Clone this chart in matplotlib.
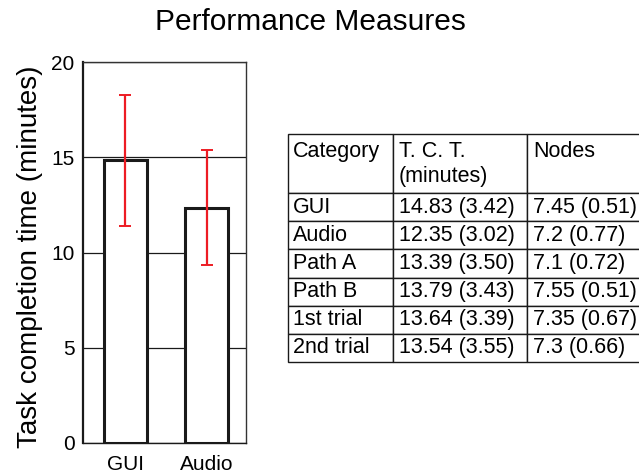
import numpy as np
import matplotlib.pyplot as plt

plt.rcParams['font.family'] = ['Liberation Sans', 'DejaVu Sans']

# Data
groups = ['GUI', 'Audio']
tct_mean = [14.83, 12.35]
tct_sd = [3.42, 3.02]

table_cols = ['Category', 'T. C. T.\n(minutes)', 'Nodes']
table_cats = ['GUI', 'Audio', 'Path A', 'Path B', '1st trial', '2nd trial']
table_tct = ['14.83 (3.42)', '12.35 (3.02)', '13.39 (3.50)', '13.79 (3.43)',
             '13.64 (3.39)', '13.54 (3.55)']
table_nodes = ['7.45 (0.51)', '7.2 (0.77)', '7.1 (0.72)', '7.55 (0.51)',
               '7.35 (0.67)', '7.3 (0.66)']

W, H = 639, 476
fig = plt.figure(figsize=(W / 100, H / 100), dpi=100)

# Bar chart
ax = fig.add_axes([83 / W, 1 - 443 / H, 163 / W, 381 / H])
x = np.arange(len(groups))
ax.bar(x, tct_mean, width=0.53, color='white', edgecolor='#1a1a1a', linewidth=2.2, zorder=2)
ax.errorbar(x, tct_mean, yerr=tct_sd, fmt='none', ecolor='#ed1c24',
            elinewidth=1.6, capsize=4, capthick=1.4, zorder=3)
ax.set_xlim(-0.52, 1.48)
ax.set_ylim(0, 20)
ax.set_yticks([0, 5, 10, 15, 20])
ax.set_xticks(x)
ax.set_xticklabels(groups)
ax.tick_params(axis='both', length=0, labelsize=15)
ax.tick_params(axis='y', pad=6)
ax.tick_params(axis='x', pad=9)
ax.yaxis.grid(True, color='#1a1a1a', linewidth=0.9)
ax.set_axisbelow(True)
ax.spines['left'].set_linewidth(1.6)
ax.spines['left'].set_color('#1a1a1a')
ax.spines['bottom'].set_linewidth(1.0)
ax.spines['bottom'].set_color('#1a1a1a')
for s in ['top', 'right']:
    ax.spines[s].set_linewidth(1.0)
    ax.spines[s].set_color('#333333')

fig.text(30 / W, 1 - 257 / H, 'Task completion time (minutes)', rotation=90,
         ha='center', va='center', fontsize=20)
fig.text(310 / W, 1 - 22 / H, 'Performance Measures', ha='center', va='center', fontsize=21.5)

# Table (right column runs off the figure edge)
tax = fig.add_axes([288 / W, 1 - 362 / H, 373 / W, 228 / H])
tax.axis('off')
cell_text = [[c, t, n] for c, t, n in zip(table_cats, table_tct, table_nodes)]
header = ['Category\n', table_cols[1], 'Nodes\n']
tbl = tax.table(cellText=[header] + cell_text, cellLoc='left',
                colWidths=[105 / 373, 134 / 373, 134 / 373], bbox=[0, 0, 1, 1])
tbl.auto_set_font_size(False)
for (r, c), cell in tbl.get_celld().items():
    cell.set_height(2.1 if r == 0 else 1.0)
    cell.set_linewidth(1.0)
    cell.set_edgecolor('#1a1a1a')
    cell.PAD = 0.045
    cell.get_text().set_fontsize(15.5)
    cell.get_text().set_linespacing(1.25)

fig.savefig('out.png', dpi=100)
